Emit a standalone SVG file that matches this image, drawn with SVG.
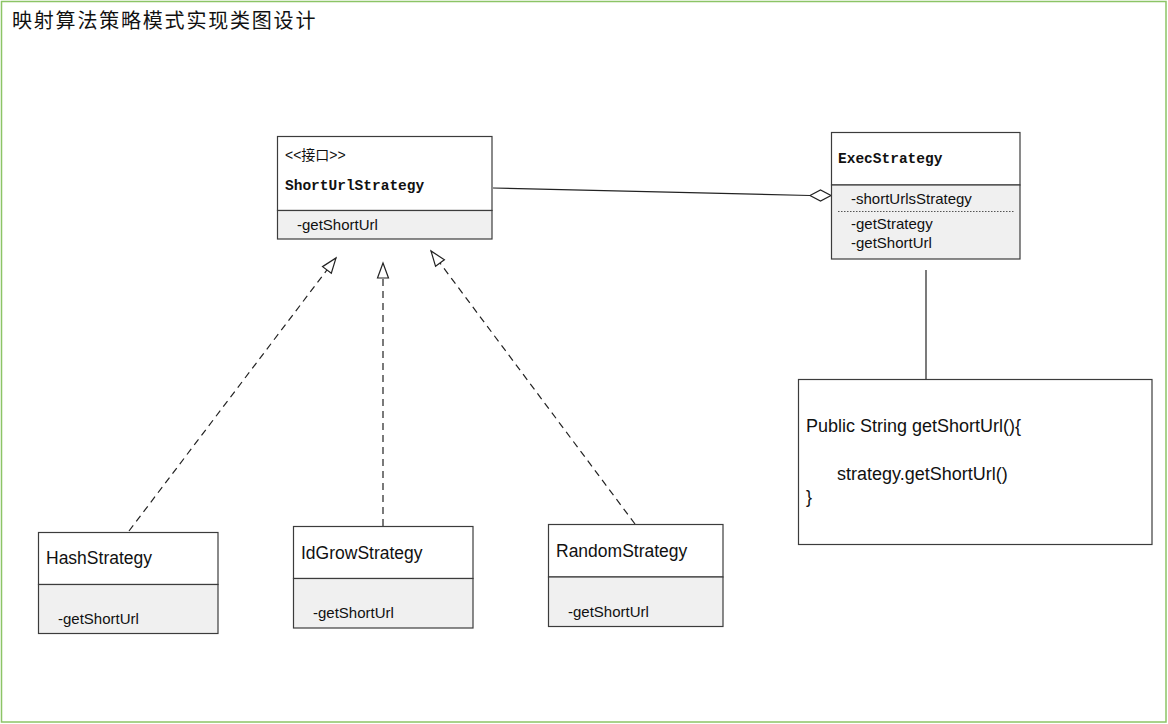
<svg xmlns="http://www.w3.org/2000/svg" width="1168" height="724" viewBox="0 0 1168 724">
<style>
.box{fill:#fff;stroke:#3c3c3c;stroke-width:1.2}
.comp{fill:#f0f0f0;stroke:#3c3c3c;stroke-width:1.2}
.t{font-family:"Liberation Sans",Arial,sans-serif;fill:#111}
.m{font-family:"Liberation Mono","Courier New",monospace;font-weight:bold;fill:#111;font-size:14.5px}
.dash{stroke:#222;stroke-width:1.2;stroke-dasharray:7,5;fill:none}
.ln{stroke:#222;stroke-width:1.2;fill:none}
</style>
<defs>
<marker id="tri" markerWidth="18" markerHeight="14" refX="16" refY="7" orient="auto" markerUnits="userSpaceOnUse">
<path d="M1,1.5 L16,7 L1,12.5 Z" fill="#fff" stroke="#222" stroke-width="1.2"/>
</marker>
</defs>
<rect x="0" y="0" width="1168" height="724" fill="#fff"/>
<rect x="1.5" y="1.5" width="1164.5" height="720.5" fill="none" stroke="#8cc466" stroke-width="1.5"/>
<text x="12" y="28" font-family="'Noto Sans CJK SC',sans-serif" font-size="20" letter-spacing="1.8" fill="#111">映射算法策略模式实现类图设计</text>

<g id="connectors">
<line class="dash" x1="129" y1="531" x2="336" y2="258" marker-end="url(#tri)"/>
<line class="dash" x1="383" y1="526" x2="383" y2="263" marker-end="url(#tri)"/>
<line class="dash" x1="635" y1="524" x2="431" y2="251" marker-end="url(#tri)"/>
<line class="ln" x1="493" y1="188" x2="810" y2="195.5"/>
<path d="M810,195.5 L820.5,190 L831,195.5 L820.5,201 Z" fill="#fff" stroke="#222" stroke-width="1.2"/>
<line class="ln" x1="926" y1="270" x2="926" y2="379"/>
</g>

<g id="ShortUrlStrategy">
<rect class="box" x="277.5" y="136.5" width="214.5" height="74"/>
<rect class="comp" x="277.5" y="210.5" width="214.5" height="28.5"/>
<text x="285" y="160" font-family="'Liberation Sans','Noto Sans CJK SC',sans-serif" font-size="14" fill="#111">&lt;&lt;接口&gt;&gt;</text>
<text class="m" x="285" y="190">ShortUrlStrategy</text>
<text class="t" x="297" y="230" font-size="15">-getShortUrl</text>
</g>

<g id="ExecStrategy">
<rect class="box" x="831.5" y="132.5" width="188.5" height="52.5"/>
<rect class="comp" x="831.5" y="185" width="188.5" height="74"/>
<text class="m" x="838" y="163">ExecStrategy</text>
<text class="t" x="851" y="204" font-size="15">-shortUrlsStrategy</text>
<line x1="838" y1="211.5" x2="1015" y2="211.5" stroke="#555" stroke-width="1" stroke-dasharray="1.5,1.5"/>
<text class="t" x="851" y="229" font-size="15">-getStrategy</text>
<text class="t" x="851" y="248" font-size="15">-getShortUrl</text>
</g>

<g id="HashStrategy">
<rect class="box" x="38.5" y="532.5" width="179.5" height="52"/>
<rect class="comp" x="38.5" y="584.5" width="179.5" height="49"/>
<text class="t" x="46" y="564" font-size="17.5">HashStrategy</text>
<text class="t" x="58" y="624" font-size="15">-getShortUrl</text>
</g>

<g id="IdGrowStrategy">
<rect class="box" x="293.5" y="526.5" width="179.5" height="52"/>
<rect class="comp" x="293.5" y="578.5" width="179.5" height="49.5"/>
<text class="t" x="301" y="559" font-size="17.5">IdGrowStrategy</text>
<text class="t" x="313" y="618" font-size="15">-getShortUrl</text>
</g>

<g id="RandomStrategy">
<rect class="box" x="548.5" y="524.5" width="174.5" height="52.5"/>
<rect class="comp" x="548.5" y="577" width="174.5" height="49.5"/>
<text class="t" x="556" y="557" font-size="17.5">RandomStrategy</text>
<text class="t" x="568" y="617" font-size="15">-getShortUrl</text>
</g>

<g id="CodeNote">
<rect class="box" x="798.5" y="379.5" width="353.5" height="165"/>
<text class="t" x="806" y="432" font-size="18">Public String getShortUrl(){</text>
<text class="t" x="837" y="480" font-size="18">strategy.getShortUrl()</text>
<text class="t" x="806" y="503" font-size="18">}</text>
</g>
</svg>
